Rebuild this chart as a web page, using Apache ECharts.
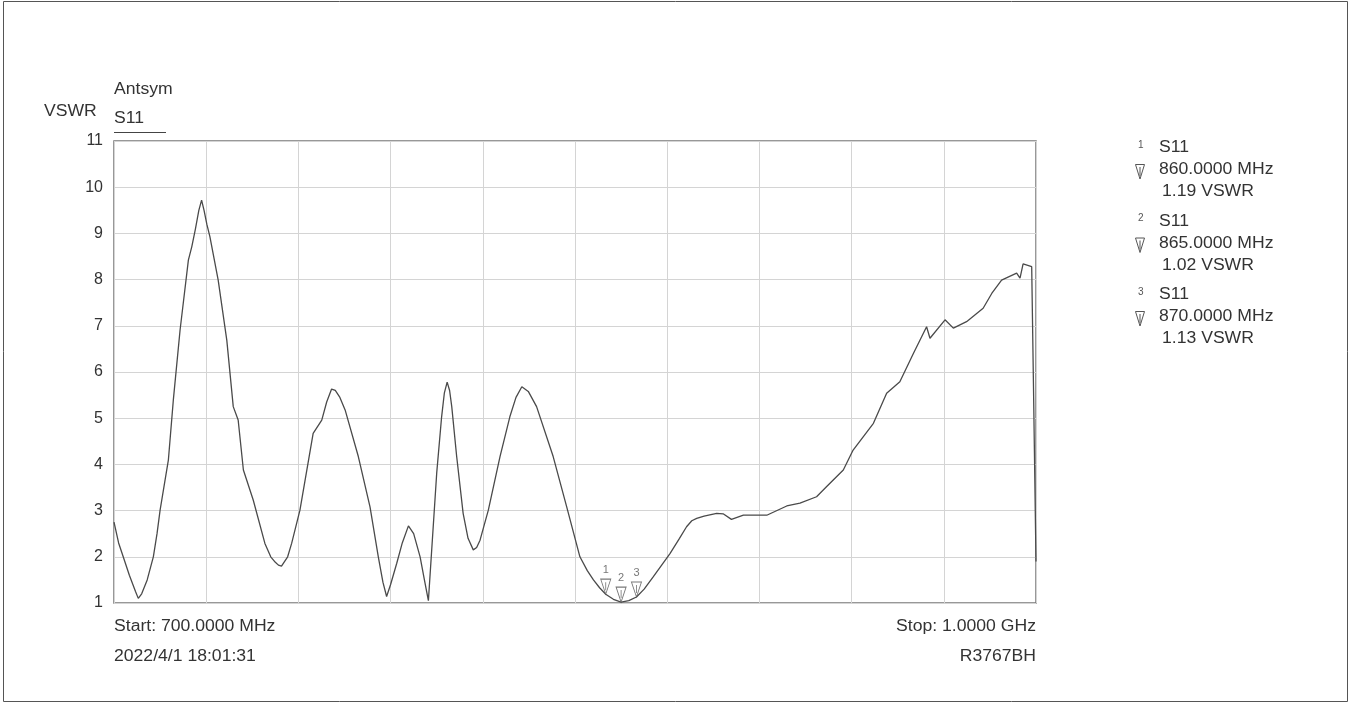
<!DOCTYPE html>
<html>
<head>
<meta charset="utf-8">
<script src="https://cdn.jsdelivr.net/npm/echarts@6/dist/echarts.min.js"></script>
<style>html,body{margin:0;padding:0;background:#fff;}#c{width:1351px;height:704px;}</style>
</head>
<body>
<div id="c"></div>
<script>
// Frequency (MHz) and VSWR trace values
const freqs = [700,701.5,703.0,705.0,707.0,707.9,709.0,710.8,712.8,714.0,715.0,717.7,719.3,721.5,724.2,725.3,726.5,727.6,728.5,729.3,730.2,731.2,733.9,736.7,738.8,740.4,742.1,745.3,749.1,751.0,752.5,753.5,754.5,755.1,756.5,757.8,760.5,764.8,767.6,769.2,770.8,772.0,773.5,775.2,779.5,783.3,786.0,787.5,788.7,790.0,792.0,793.8,795.8,797.5,799.6,801.0,802.3,805.0,806.6,807.5,808.4,809.2,809.9,811.5,813.6,815.2,816.9,818.0,819.1,821.8,825.6,828.8,830.8,832.7,834.8,837.5,842.9,847.3,851.6,854.0,856.0,858.0,860,862.5,865,867.5,870,872.5,875.5,880.9,884.0,886.3,888.0,889.6,892.0,896.1,898.2,900.9,904.8,912.4,918.9,923.2,928.6,931.9,937.3,940.5,947.1,951.4,955.7,960.1,964.4,965.5,970.4,973.1,977.4,982.8,985.6,988.8,993.7,994.8,995.8,998.6,999.0,999.2,1000];
const vswr  = [2.75,2.3,2.0,1.6,1.25,1.10,1.2,1.5,2.0,2.5,3.01,4.1,5.39,6.91,8.42,8.71,9.1,9.5,9.72,9.5,9.2,8.93,7.99,6.69,5.25,4.96,3.88,3.23,2.29,2.0,1.88,1.82,1.80,1.84,2.0,2.29,3.01,4.67,4.96,5.35,5.63,5.6,5.45,5.18,4.17,3.08,2.0,1.45,1.14,1.4,1.86,2.3,2.67,2.5,2.0,1.5,1.05,3.81,5.03,5.55,5.78,5.6,5.25,4.17,2.94,2.4,2.15,2.2,2.36,3.01,4.17,5.03,5.45,5.68,5.58,5.25,4.17,3.08,2.0,1.7,1.50,1.33,1.19,1.08,1.02,1.05,1.13,1.3,1.57,2.07,2.4,2.65,2.78,2.83,2.88,2.94,2.93,2.81,2.90,2.90,3.10,3.16,3.30,3.52,3.88,4.31,4.89,5.54,5.79,6.40,6.98,6.73,7.13,6.95,7.09,7.38,7.70,7.99,8.14,8.03,8.34,8.28,8.28,5.6,1.9];
// Markers
const markerIds = ['1','2','3'];
const markerFreqs = [860,865,870];
const markerVals = [1.19,1.02,1.13];
// Axis ticks
const yTicks = [1,2,3,4,5,6,7,8,9,10,11];
const xStart = 700, xStop = 1000, xStep = 30;

const FONT = 'Liberation Sans, Arial, sans-serif';
const TXT = '#333';
const SX = 1.1;
const chart = echarts.init(document.getElementById('c'));

function txt(x, y, s, align, size) {
  return {type:'text', x:x, y:y, scaleX:SX, silent:true,
    style:{text:s, font:(size||16)+'px '+FONT, fill:TXT, align:align||'left', verticalAlign:'top'}};
}

const graphics = [
  {type:'rect', shape:{x:3.5,y:1.5,width:1344,height:700}, style:{fill:'none',stroke:'#555',lineWidth:1}, silent:true},
  txt(44, 104, 'VSWR'),
  txt(114, 82, 'Antsym'),
  txt(114, 111, 'S11'),
  {type:'line', shape:{x1:114,y1:132.5,x2:166,y2:132.5}, style:{stroke:'#444',lineWidth:1}},
  txt(114, 619, 'Start: ' + xStart.toFixed(4) + ' MHz'),
  txt(114, 649, '2022/4/1 18:01:31'),
  txt(1036, 619, 'Stop: ' + (xStop/1000).toFixed(4) + ' GHz', 'right'),
  txt(1036, 649, 'R3767BH', 'right')
];
markerIds.forEach((id, i) => {
  const y0 = 140 + i*73.5;
  graphics.push({type:'text', x:1138, y:y0, silent:true, style:{text:id, font:'10px '+FONT, fill:'#555', verticalAlign:'top'}});
  graphics.push(txt(1159, y0, 'S11'));
  graphics.push({type:'polygon', shape:{points:[[1135.5,y0+24.5],[1144.5,y0+24.5],[1140,y0+39]]}, style:{fill:'none',stroke:'#555',lineWidth:1}});
  graphics.push({type:'line', shape:{x1:1140,y1:y0+27,x2:1140,y2:y0+36}, style:{stroke:'#555',lineWidth:1}});
  graphics.push(txt(1159, y0+22, markerFreqs[i].toFixed(4)+' MHz'));
  graphics.push(txt(1162, y0+44, markerVals[i].toFixed(2)+' VSWR'));
});

chart.setOption({
  animation:false,
  backgroundColor:'#fff',
  grid:{left:114, right:315, top:141, bottom:101, show:true, borderColor:'#777', borderWidth:1.5, backgroundColor:'transparent'},
  xAxis:{type:'value', min:xStart, max:xStop, interval:xStep,
    axisLine:{show:false}, axisTick:{show:false}, axisLabel:{show:false},
    splitLine:{show:true, lineStyle:{color:'#d4d4d4', width:1}}},
  yAxis:{type:'value', min:yTicks[0], max:yTicks[yTicks.length-1], interval:1,
    axisLine:{show:false}, axisTick:{show:false},
    axisLabel:{color:TXT, fontSize:16, fontFamily:FONT, margin:11},
    splitLine:{show:true, lineStyle:{color:'#d4d4d4', width:1}}},
  series:[
    {type:'line', data:freqs.map((f,i)=>[f,vswr[i]]), showSymbol:false, smooth:false,
     lineStyle:{color:'#4a4a4a', width:1.3}, z:3},
    {type:'scatter', data:markerFreqs.map((f,i)=>({value:[f,markerVals[i]], name:markerIds[i]})),
     symbol:'path://M0,0 L10,0 L5,15 Z M5,3 L5,11', symbolSize:[10,15], symbolOffset:[0,-7.5],
     itemStyle:{color:'#fff', borderColor:'#555', borderWidth:1},
     label:{show:true, position:'top', distance:3, formatter:p=>p.name, fontSize:11, color:'#555', fontFamily:FONT},
     z:4}
  ],
  graphic:graphics
});
</script>
</body>
</html>
